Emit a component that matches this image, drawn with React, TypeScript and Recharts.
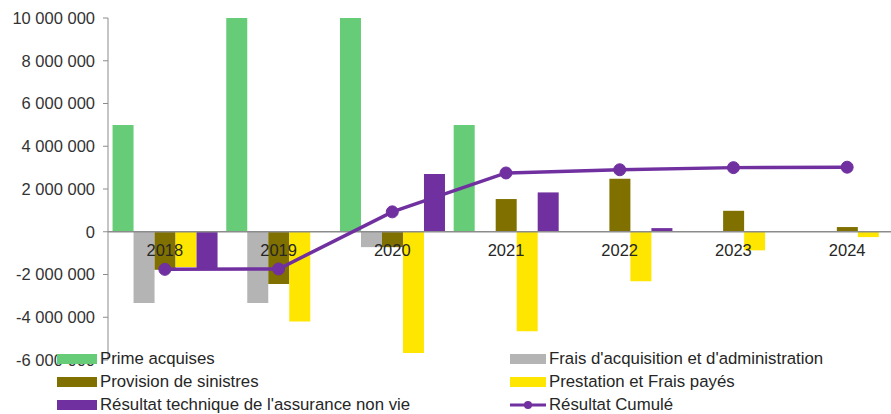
import React from 'react';
import { ComposedChart, Bar, Line, XAxis, YAxis, ReferenceLine, Legend, LabelList } from 'recharts';

const years = ['2018', '2019', '2020', '2021', '2022', '2023', '2024'];
const primeAcquises = [5000000, 10000000, 10000000, 5000000, 0, 0, 0];
const fraisAcquisition = [-3330000, -3330000, -720000, 0, 0, 0, 0];
const provisionSinistres = [-1780000, -2450000, -720000, 1530000, 2480000, 980000, 220000];
const prestationFrais = [-1650000, -4200000, -5670000, -4660000, -2320000, -870000, -250000];
const resultatTechnique = [-1760000, 0, 2700000, 1840000, 170000, 0, 0];
const resultatCumule = [-1760000, -1740000, 930000, 2750000, 2900000, 3000000, 3020000];
const yTicks = [-6000000, -4000000, -2000000, 0, 2000000, 4000000, 6000000, 8000000, 10000000];

const C_GREEN = '#66CC77';
const C_GREY = '#B4B4B4';
const C_OLIVE = '#7F7000';
const C_YELLOW = '#FFE600';
const C_PURPLE = '#7030A0';

const data = years.map((y, i) => ({
  year: y,
  prime: primeAcquises[i],
  frais: fraisAcquisition[i],
  provision: provisionSinistres[i],
  prestation: prestationFrais[i],
  technique: resultatTechnique[i],
  cumule: resultatCumule[i],
  zero: 0,
}));

const FONT = 'Arial, "Liberation Sans", sans-serif';

const fmt = (v: number) => {
  const s = Math.abs(v).toString().replace(/\B(?=(\d{3})+(?!\d))/g, ' ');
  return (v < 0 ? '-' : '') + s;
};

const legendItems = [
  { name: 'Prime acquises', color: C_GREEN, col: 0, row: 0, line: false },
  { name: "Frais d'acquisition et d'administration", color: C_GREY, col: 1, row: 0, line: false },
  { name: 'Provision de sinistres', color: C_OLIVE, col: 0, row: 1, line: false },
  { name: 'Prestation et Frais payés', color: C_YELLOW, col: 1, row: 1, line: false },
  { name: "Résultat technique de l'assurance non vie", color: C_PURPLE, col: 0, row: 2, line: false },
  { name: 'Résultat Cumulé', color: C_PURPLE, col: 1, row: 2, line: true },
];

const LegendContent = () => (
  <div style={{ position: 'relative', width: 891, height: 70, fontFamily: FONT, fontSize: 16.8, color: '#262626' }}>
    {legendItems.map((it) => {
      const left = it.col === 0 ? 57 : 510;
      const sw = it.col === 0 ? 40 : 36;
      return (
        <div key={it.name} style={{ position: 'absolute', left, top: it.row * 23, height: 23, display: 'flex', alignItems: 'center', whiteSpace: 'nowrap' }}>
          {it.line ? (
            <svg width={sw} height={12} style={{ marginRight: 3 }}>
              <line x1={0} y1={6} x2={sw} y2={6} stroke={it.color} strokeWidth={3} />
              <circle cx={sw / 2} cy={6} r={4} fill={it.color} />
            </svg>
          ) : (
            <div style={{ width: sw, height: 10, background: it.color, marginRight: 3 }} />
          )}
          <span>{it.name}</span>
        </div>
      );
    })}
  </div>
);

export default function App() {
  return (
    <div style={{ position: 'fixed', left: 0, top: 0, width: 891, height: 414, overflow: 'hidden', background: '#fff' }}>
      <ComposedChart
        width={912}
        height={414}
        data={data}
        margin={{ top: 18, right: 8, bottom: 54, left: 0 }}
        barCategoryGap="4%"
        barGap={0}
      >
        <XAxis dataKey="year" hide />
        <YAxis
          width={108}
          domain={[-6000000, 10000000]}
          ticks={yTicks}
          tickFormatter={fmt}
          tick={{ fill: '#333', fontSize: 16.5, fontFamily: FONT }}
          tickSize={5}
          tickMargin={8}
          axisLine={{ stroke: '#8c8c8c' }}
          tickLine={{ stroke: '#8c8c8c' }}
          allowDataOverflow
        />
        <ReferenceLine y={0} stroke="#8c8c8c" strokeWidth={1.5} />
        <Bar dataKey="prime" name="Prime acquises" fill={C_GREEN} isAnimationActive={false} />
        <Bar dataKey="frais" name="Frais d'acquisition et d'administration" fill={C_GREY} isAnimationActive={false} />
        <Bar dataKey="provision" name="Provision de sinistres" fill={C_OLIVE} isAnimationActive={false} />
        <Bar dataKey="prestation" name="Prestation et Frais payés" fill={C_YELLOW} isAnimationActive={false} />
        <Bar dataKey="technique" name="Résultat technique de l'assurance non vie" fill={C_PURPLE} isAnimationActive={false} />
        <Line
          dataKey="zero"
          stroke="none"
          dot={false}
          activeDot={false}
          legendType="none"
          isAnimationActive={false}
        >
          <LabelList dataKey="year" position="bottom" offset={13} style={{ fill: '#262626', fontSize: 16.5, fontFamily: FONT }} />
        </Line>
        <Line
          dataKey="cumule"
          name="Résultat Cumulé"
          stroke={C_PURPLE}
          strokeWidth={3.5}
          dot={{ r: 6, fill: C_PURPLE, stroke: C_PURPLE, strokeWidth: 1 }}
          activeDot={false}
          isAnimationActive={false}
        />
        <Legend
          layout="horizontal"
          verticalAlign="middle"
          content={<LegendContent />}
          wrapperStyle={{ position: 'absolute', top: 347, left: 0, width: 891, height: 70 }}
        />
      </ComposedChart>
    </div>
  );
}
